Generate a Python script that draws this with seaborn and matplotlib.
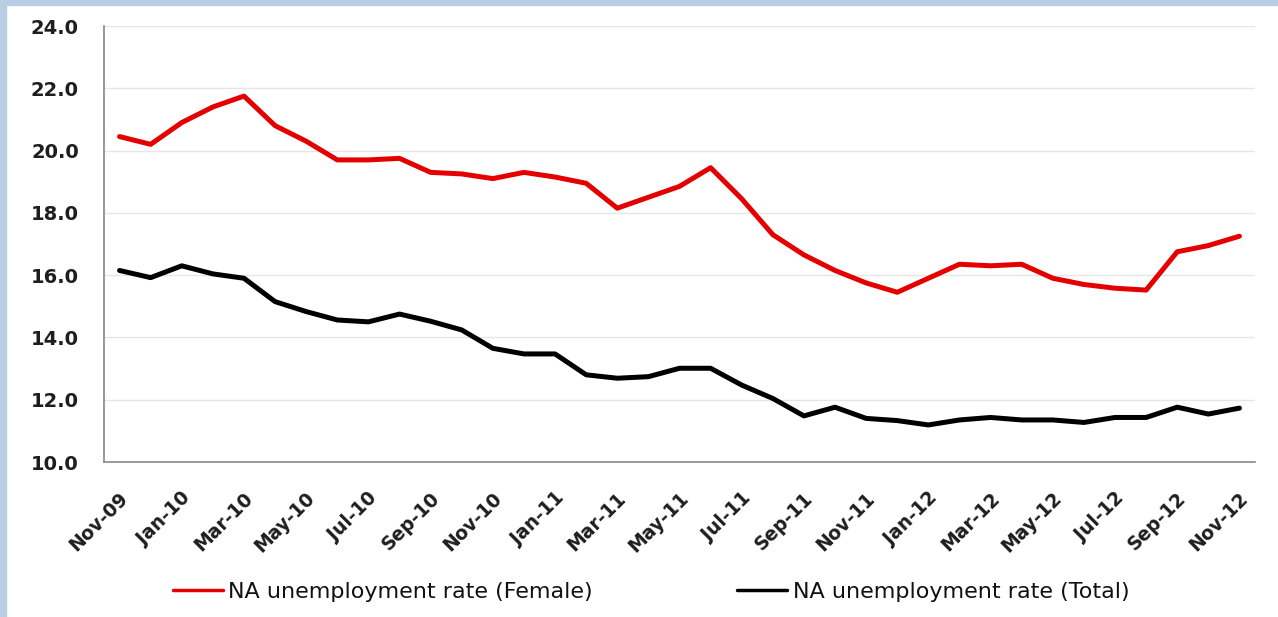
import matplotlib
matplotlib.use("Agg")
import matplotlib.pyplot as plt
import matplotlib.transforms as mtrans
import seaborn as sns
import pandas as pd
import numpy as np
from matplotlib.patches import Rectangle
from matplotlib.lines import Line2D

months = ["Nov-09", "Dec-09", "Jan-10", "Feb-10", "Mar-10", "Apr-10", "May-10", "Jun-10",
          "Jul-10", "Aug-10", "Sep-10", "Oct-10", "Nov-10", "Dec-10", "Jan-11", "Feb-11",
          "Mar-11", "Apr-11", "May-11", "Jun-11", "Jul-11", "Aug-11", "Sep-11", "Oct-11",
          "Nov-11", "Dec-11", "Jan-12", "Feb-12", "Mar-12", "Apr-12", "May-12", "Jun-12",
          "Jul-12", "Aug-12", "Sep-12", "Oct-12", "Nov-12"]

female = [20.45, 20.2, 20.9, 21.4, 21.75, 20.8, 20.3, 19.7, 19.7, 19.75, 19.3, 19.25,
          19.1, 19.3, 19.15, 18.95, 18.15, 18.5, 18.85, 19.45, 18.45, 17.3, 16.65, 16.15,
          15.75, 15.45, 15.9, 16.35, 16.3, 16.35, 15.9, 15.7, 15.58, 15.52, 16.75, 16.95, 17.25]

total = [16.15, 15.92, 16.3, 16.04, 15.9, 15.15, 14.83, 14.56, 14.5, 14.75, 14.52, 14.24,
         13.65, 13.47, 13.47, 12.8, 12.69, 12.74, 13.01, 13.01, 12.47, 12.04, 11.48, 11.76,
         11.4, 11.33, 11.19, 11.35, 11.43, 11.35, 11.35, 11.27, 11.43, 11.43, 11.76, 11.54, 11.73]

series_names = ["NA unemployment rate (Female)", "NA unemployment rate (Total)"]
series_colors = ["#e50000", "#000000"]
yticks = [10.0, 12.0, 14.0, 16.0, 18.0, 20.0, 22.0, 24.0]

sns.set_style("white")
plt.rcParams["font.family"] = ["DejaVu Sans"]

pos = np.arange(len(months)) + 0.5
df = pd.DataFrame({
    "pos": np.concatenate([pos, pos]),
    "value": female + total,
    "series": [series_names[0]] * len(months) + [series_names[1]] * len(months),
})

fig = plt.figure(figsize=(12.78, 6.17), dpi=100)
ax = fig.add_axes([104 / 1278, 1 - 462 / 617, (1255 - 104) / 1278, (462 - 26) / 617])

sns.lineplot(data=df, x="pos", y="value", hue="series", palette=series_colors,
             linewidth=3.6, ax=ax, legend=False, sort=False)

ax.set_xlim(0, len(months))
ax.set_ylim(10, 24)
ax.set_yticks(yticks)
ax.set_yticklabels([f"{v:.1f}" for v in yticks], fontsize=14, fontweight="bold", color="#1e1e1e")
ax.grid(axis="y", color="#e6e6e6", linewidth=1.0)
ax.set_axisbelow(True)

# tick marks at every second category boundary
ax.set_xticks(np.arange(0, len(months) + 1, 2))
ax.set_xticklabels([])
ax.tick_params(axis="x", which="major", length=6, width=1, color="#888888", direction="out")
ax.tick_params(axis="y", which="major", length=7, width=1, color="#888888", direction="out", pad=11)
# labels at category centres
ax.set_xticks(pos[::2], minor=True)
ax.set_xticklabels(months[::2], minor=True, rotation=45, ha="right", va="center",
                   rotation_mode="anchor", fontsize=13.5, fontweight="bold", color="#1e1e1e")
ax.tick_params(axis="x", which="minor", length=0, pad=24)
shift = mtrans.ScaledTranslation(6 / 100, 0, fig.dpi_scale_trans)
for lbl in ax.get_xticklabels(minor=True):
    lbl.set_transform(lbl.get_transform() + shift)

for s in ["top", "right"]:
    ax.spines[s].set_visible(False)
for s in ["left", "bottom"]:
    ax.spines[s].set_color("#888888")
    ax.spines[s].set_linewidth(1.2)
ax.set_xlabel("")
ax.set_ylabel("")

handles = [Line2D([0], [0], color=c, lw=2.5) for c in series_colors]
fig.legend(handles, series_names, loc="center", bbox_to_anchor=(651 / 1278, 1 - 592 / 617),
           ncol=2, frameon=False, fontsize=16, handlelength=2.25, handletextpad=0.25,
           columnspacing=6.5, labelcolor="#111111")

# light blue frame strips
fig.patches.append(Rectangle((0, 0), 6 / 1278, 1, transform=fig.transFigure,
                             color="#b9cde5", zorder=10))
fig.patches.append(Rectangle((0, 1 - 5 / 617), 1, 5 / 617, transform=fig.transFigure,
                             color="#b9cde5", zorder=10))

fig.savefig("out.png", dpi=100)
